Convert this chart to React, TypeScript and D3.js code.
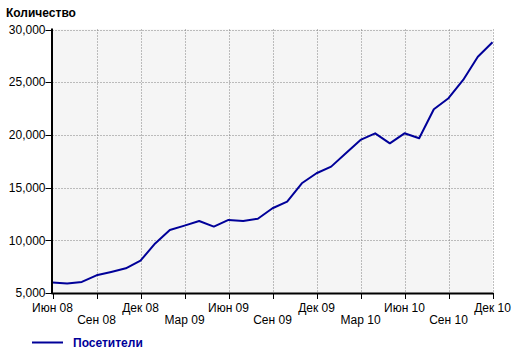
import React from 'react';
import * as d3 from 'd3';

// monthly visitors, Jun 2008 .. Dec 2010
const months = [
  'Июн 08', 'Июл 08', 'Авг 08', 'Сен 08', 'Окт 08', 'Ноя 08', 'Дек 08',
  'Янв 09', 'Фев 09', 'Мар 09', 'Апр 09', 'Май 09', 'Июн 09', 'Июл 09', 'Авг 09',
  'Сен 09', 'Окт 09', 'Ноя 09', 'Дек 09', 'Янв 10', 'Фев 10', 'Мар 10', 'Апр 10',
  'Май 10', 'Июн 10', 'Июл 10', 'Авг 10', 'Сен 10', 'Окт 10', 'Ноя 10', 'Дек 10'
];
const visitors = [
  6000, 5900, 6050, 6680, 7000, 7340, 8070,
  9700, 10980, 11390, 11830, 11300, 11930, 11830, 12050,
  13040, 13670, 15410, 16360, 16990, 18250, 19520, 20150,
  19200, 20150, 19680, 22430, 23480, 25210, 27420, 28790
];
const yTicks = [5000, 10000, 15000, 20000, 25000, 30000];
const seriesName = 'Посетители';
const yTitle = 'Количество';

const W = 520;
const H = 353;
const left = 52.5;
const right = 492.5;
const top = 29.5;
const bottom = 293;
const font = 'Arial, "Liberation Sans", sans-serif';
const navy = '#000099';

export default function App() {
  const x = d3.scaleLinear().domain([0, months.length - 1]).range([left, right]);
  const y = d3.scaleLinear().domain([5000, 30000]).range([bottom, top]);
  const xTicks = d3.range(0, months.length, 3);
  const fmt = d3.format(',');

  const line = d3.line<number>()
    .x((_, i) => x(i))
    .y(d => y(d));

  return (
    <svg width={W} height={H} style={{ position: 'absolute', left: 0, top: 0 }} fontFamily={font}>
      <rect x={0} y={0} width={W} height={H} fill="#fff" />
      <text x={6} y={17} fontSize={12} fontWeight="bold">{yTitle}</text>
      <rect x={left} y={top} width={right - left} height={bottom - top} fill="#f5f5f5" />

      {yTicks.slice(1).map(t => (
        <line key={'gy' + t} x1={left} x2={right} y1={Math.round(y(t)) + 0.5} y2={Math.round(y(t)) + 0.5}
          stroke="#808080" strokeDasharray="1,2" />
      ))}
      {xTicks.slice(1).map(i => (
        <line key={'gx' + i} x1={Math.round(x(i)) + 0.5} x2={Math.round(x(i)) + 0.5} y1={top} y2={bottom}
          stroke="#808080" strokeDasharray="1,2" />
      ))}

      <path d={line(visitors) || ''} fill="none" stroke={navy} strokeWidth={2} strokeLinejoin="round" />

      <line x1={left - 0.5} x2={left - 0.5} y1={top - 1} y2={bottom + 1} stroke="#000" strokeWidth={2} />
      <line x1={left - 1} x2={right + 1} y1={bottom + 0.5} y2={bottom + 0.5} stroke="#000" strokeWidth={2} />

      {yTicks.map(t => (
        <g key={'y' + t}>
          <line x1={left - 7} x2={left} y1={Math.round(y(t)) + 0.5} y2={Math.round(y(t)) + 0.5} stroke="#000" />
          <text x={left - 7} y={y(t)} dy="0.35em" textAnchor="end" fontSize={12}>{fmt(t)}</text>
        </g>
      ))}

      {xTicks.map((i, k) => (
        <g key={'x' + i}>
          <line x1={Math.round(x(i)) + 0.5} x2={Math.round(x(i)) + 0.5} y1={bottom} y2={bottom + 6} stroke="#000" />
          <text x={x(i)} y={k % 2 === 0 ? 312 : 324} textAnchor="middle" fontSize={12}>{months[i]}</text>
        </g>
      ))}

      <line x1={32} x2={63} y1={342.5} y2={342.5} stroke={navy} strokeWidth={2} />
      <text x={73} y={347} fontSize={12} fontWeight="bold" fill={navy}>{seriesName}</text>
    </svg>
  );
}
